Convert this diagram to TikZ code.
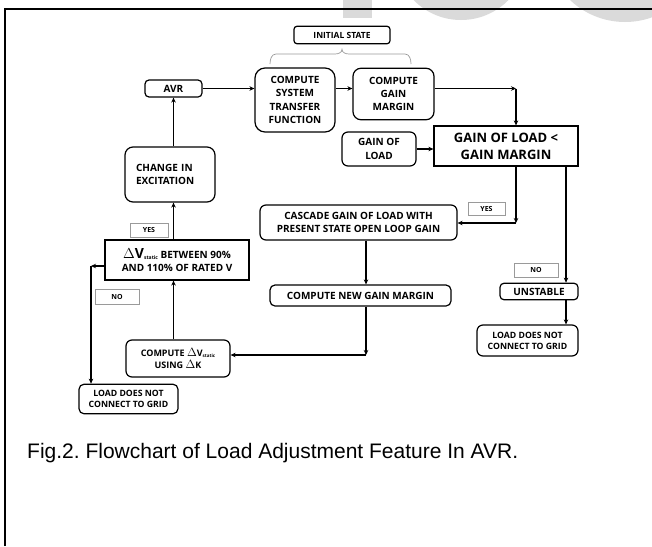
\documentclass[tikz,border=0pt]{standalone}
\usepackage{fontspec}
\setmainfont{Liberation Sans}
\newfontfamily\boxfont{Open Sans}
\usepackage{xcolor}
\usepackage{tikz}
\usetikzlibrary{arrows.meta}
\definecolor{watermark}{HTML}{DADADA}
\definecolor{labelgray}{HTML}{9A9A9A}
\frenchspacing

\begin{document}
\begin{tikzpicture}[
        x=1pt,
        y=-1pt,
        block/.style={
            rectangle,
            draw,
            line width=1.2pt,
            fill=white,
            align=center,
            rounded corners=4pt,
            inner sep=1pt,
            font=\boxfont\bfseries\fontsize{10}{13.2}\selectfont
        },
        decision/.style={
            block,
            sharp corners
        },
        tag/.style={
            rectangle,
            draw=labelgray,
            line width=0.6pt,
            fill=white,
            inner sep=0pt,
            font=\boxfont\bfseries\fontsize{7}{7}\selectfont
        },
        line/.style={
            draw,
            line width=1.1pt,
            -{Stealth[length=5pt,width=4.5pt]}
        },
        bracket/.style={
            draw=labelgray,
            line width=0.7pt
        },
        ]

        \useasboundingbox (0,0) rectangle (652,546);
        \begin{scope}
            \clip (0,0) rectangle (652,546);
            \fill [watermark] (343,0) rectangle (372,18);
            \fill [watermark] (461,-46.4) circle (66.4);
            \fill [watermark] (625,-57.75) circle (79.75);
        \end{scope}
        \draw [line width=2pt] (5,546) -- (5,8.5) -- (652,8.5);

        \node [block,minimum width=96pt,minimum height=17.5pt,rounded corners=3pt,font=\boxfont\bfseries\fontsize{8.5}{10}\selectfont] (initial-state) at (342,35) {INITIAL STATE};
        \node [block,minimum width=57pt,minimum height=17pt] (avr) at (173.5,88.5) {AVR};
        \node [block,minimum width=80pt,minimum height=64pt,rounded corners=10pt] (transfer-function) at (295,100) {COMPUTE\\SYSTEM\\TRANSFER\\FUNCTION};
        \node [block,minimum width=81pt,minimum height=51.5pt,rounded corners=8pt] (gain-margin) at (393.5,94) {COMPUTE\\GAIN\\MARGIN};
        \node [block,minimum width=74pt,minimum height=34pt,rounded corners=6pt] (gain-of-load) at (379,149) {GAIN OF\\LOAD};
        \node [decision,minimum width=144pt,minimum height=40pt,font=\boxfont\bfseries\fontsize{13}{16.7}\selectfont] (load-check) at (506,146) {GAIN OF LOAD <\\GAIN MARGIN};
        \node [block,minimum width=90pt,minimum height=55pt,rounded corners=8pt,text width=68pt,align=left] (change-excitation) at (170,174.5) {CHANGE IN\\EXCITATION};
        \node [decision,minimum width=144pt,minimum height=40pt] (voltage-check) at (177,260) {{\fontsize{14}{14}\selectfont$\Delta$V}\raisebox{-1.5pt}{\fontsize{5}{5}\selectfont static} BETWEEN 90\%\\AND 110\% OF RATED V};
        \node [block,minimum width=104pt,minimum height=37pt,rounded corners=6pt,font=\boxfont\bfseries\fontsize{9}{12.3}\selectfont] (compute-voltage) at (178,358.5) {COMPUTE {\fontsize{12}{12}\selectfont$\Delta$}V\raisebox{-1pt}{\fontsize{4.5}{5}\selectfont static}\\USING {\fontsize{12}{12}\selectfont$\Delta$}K};
        \node [block,minimum width=99pt,minimum height=29.5pt,rounded corners=5pt,font=\boxfont\bfseries\fontsize{8.7}{11.1}\selectfont] (no-connect-left) at (128.5,399) {LOAD DOES NOT\\CONNECT TO GRID};
        \node [block,minimum width=197pt,minimum height=35pt,rounded corners=6pt] (cascade-gain) at (358.5,222.5) {CASCADE GAIN OF LOAD WITH\\PRESENT STATE OPEN LOOP GAIN};
        \node [block,minimum width=181pt,minimum height=21pt,rounded corners=5pt] (new-gain-margin) at (360.5,295.5) {COMPUTE NEW GAIN MARGIN};
        \node [block,minimum width=78pt,minimum height=16.5pt] (unstable) at (539,291.5) {UNSTABLE};
        \node [block,minimum width=101pt,minimum height=31pt,rounded corners=6pt,font=\boxfont\bfseries\fontsize{8.7}{11.1}\selectfont] (no-connect-right) at (527.5,340.5) {LOAD DOES NOT\\CONNECT TO GRID};

        \node [tag,minimum width=38pt,minimum height=14pt] (yes-left) at (149,230) {YES};
        \node [tag,minimum width=44pt,minimum height=15pt] (no-left) at (117,297) {NO};
        \node [tag,minimum width=37pt,minimum height=13pt] (yes-right) at (486.5,208.5) {YES};
        \node [tag,minimum width=44pt,minimum height=14pt] (no-right) at (536,270) {NO};

        \node [anchor=base west,inner sep=0pt,font=\fontsize{21}{22}\selectfont] (caption) at (27,458) {Fig.2. Flowchart of Load Adjustment Feature In AVR.};

        \coordinate (brace-left) at (270,64);
        \coordinate (brace-right) at (411,64);
        \coordinate (brace-tip) at ([yshift=-5pt]initial-state.south);
        \coordinate (margin-turn) at (516,88.5);
        \coordinate (yes-turn) at (516,223);
        \coordinate (voltage-turn) at (366,355);
        \coordinate (no-turn) at (91,266);

        \path [bracket] (brace-left) to[out=90,in=180] (276,54) -- (335,54) to[out=0,in=-90] (brace-tip) to[out=-90,in=180] (349,54) -- (405,54) to[out=0,in=90] (brace-right);

        \path [line] (avr.east) -- (avr.east -| transfer-function.west);
        \path [line] (transfer-function.east |- avr.east) -- (gain-margin.west |- avr.east);
        \path [line] (gain-margin.east |- margin-turn) -- (margin-turn);
        \path [line] (margin-turn) -- (margin-turn |- load-check.north);
        \path [line] (gain-of-load.east) -- (gain-of-load.east -| load-check.west);
        \path [line] (yes-turn |- load-check.south) -- (yes-turn);
        \path [line] (yes-turn) -- (yes-turn -| cascade-gain.east);
        \path [line] ([xshift=60pt]load-check.south) -- ([xshift=60pt]load-check.south |- unstable.north);
        \path [line] ([xshift=27pt]unstable.south) -- ([xshift=27pt]unstable.south |- no-connect-right.north);
        \path [line] (voltage-turn |- cascade-gain.south) -- (voltage-turn |- new-gain-margin.north);
        \path [line] (voltage-turn |- new-gain-margin.south) -- (voltage-turn);
        \path [line] (voltage-turn) -- (voltage-turn -| compute-voltage.east);
        \path [line] (compute-voltage.north -| avr) -- (voltage-check.south -| avr);
        \path [line] (voltage-check.north -| avr) -- (change-excitation.south -| avr);
        \path [line] (change-excitation.north -| avr) -- (avr.south);
        \path [line] (voltage-check.west |- no-turn) -- (no-turn);
        \path [line] (no-turn) -- (no-turn |- no-connect-left.north);
    \end{tikzpicture}
\end{document}
